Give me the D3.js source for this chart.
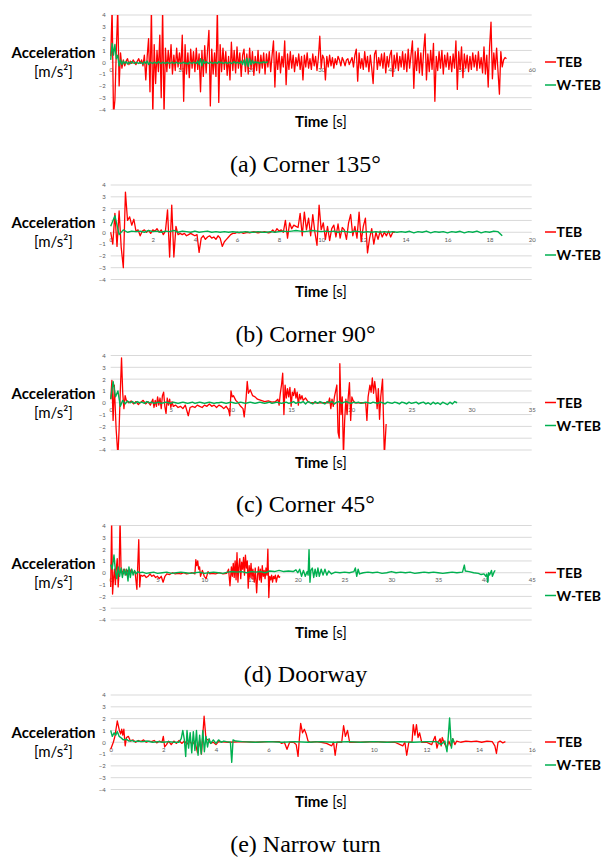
<!DOCTYPE html>
<html>
<head>
<meta charset="utf-8">
<script src="https://cdn.jsdelivr.net/npm/d3@7"></script>
<style>
  body { margin: 0; background: #fff; }
</style>
</head>
<body>
<div id="chart"></div>
<script>
var width = 605,
    height = 857;

// ---- data ----
var yTicks = [-4, -3, -2, -1, 0, 1, 2, 3, 4];

var captions = ["(a) Corner 135°", "(b) Corner 90°", "(c) Corner 45°", "(d) Doorway", "(e) Narrow turn"];
var xMaxes = [60, 20, 35, 45, 16];
var xTicksA = [0, 10, 20, 30, 40, 50, 60],
    xTicksB = [0, 2, 4, 6, 8, 10, 12, 14, 16, 18, 20],
    xTicksC = [0, 5, 10, 15, 20, 25, 30, 35],
    xTicksD = [0, 5, 10, 15, 20, 25, 30, 35, 40, 45],
    xTicksE = [0, 2, 4, 6, 8, 10, 12, 14, 16];

// (a) Corner 135 - sampled every 0.2 s
var tebA = [
  0.5, 4.5, -4.5, -3.2, 1.0, 4.5, -2.0, 0.8, -0.5, 0.2,
  -0.3, 0.1, 0.3, -0.2, 0.1, -0.1, 0.2, 0.0, -0.2, 0.1,
  0.3, -0.1, 0.2, -0.3, 0.6, -1.5, 0.5, 2.0, -2.5, 4.5,
  -4.5, 1.5, -1.8, 1.0, -0.8, 2.3, -3.0, 4.5, -4.5, 1.2,
  -0.8, 1.0, -0.5, 1.5, -1.0, 0.6, -0.7, 1.2, -0.4, 0.8,
  -0.6, 2.3, -3.3, 1.5, -1.0, 0.8, -1.3, 1.1, -0.5, 0.9,
  -0.8, 1.2, -0.6, 0.7, -2.5, 1.0, -1.2, 1.4, -0.9, 1.0,
  2.7, -3.7, 1.1, -1.0, 0.8, -1.2, 4.5, -3.4, 1.5, -0.8,
  1.2, -0.6, 0.9, -1.1, 0.5, -1.5, 1.7, -0.7, 1.0, -0.9,
  1.3, -0.5, 0.8, -1.2, 0.6, 1.1, -0.8, 0.7, -1.0, 1.2,
  -0.6, 0.9, -1.1, 0.5, -0.7, 1.0, -0.9, 0.6, -0.5, 0.8,
  -1.0, 0.7, -0.4, 0.9, -0.8, 0.6, 1.8, -2.1, 0.9, -0.6,
  0.8, -0.9, 0.5, -0.4, 1.8, -1.9, 0.7, -0.6, 0.9, -0.5,
  0.6, -0.8, 0.4, -0.3, 0.7, -0.6, 0.5, -1.5, 0.6, -0.4,
  0.8, -0.5, 0.3, -0.6, 0.7, -0.3, 0.5, -0.7, 0.4, 2.2,
  -0.5, 0.6, 0.3, -1.5, 0.5, -0.4, 0.6, -0.3, 0.4, -0.5,
  0.3, -0.2, 0.5, 0.2, -0.3, 0.4, 0.1, -0.3, 0.2, 0.3,
  -0.2, 0.1, 0.4, -0.4, 0.6, 1.1, -1.6, 0.8, -0.5, 0.3,
  -0.6, 0.9, -0.4, 0.5, -0.8, 0.6, -0.5, -1.8, 0.7, 1.0,
  -0.6, 0.4, -0.3, 0.7, -0.5, 0.8, -0.9, 0.5, -0.4, 0.6,
  1.0, -1.2, 0.6, -0.5, 0.8, -0.7, 0.5, -0.4, 0.9, -0.6,
  0.7, -0.8, 1.1, -0.5, 0.6, 1.8, -2.2, 0.9, -0.7, 1.2,
  -0.9, 0.8, -1.1, 1.0, 2.4, -1.5, 0.7, -0.8, 1.0, -0.6,
  1.6, -3.3, 0.5, -0.7, 0.9, -0.5, 1.0, -1.0, 0.6, -0.4,
  0.8, -0.6, 0.5, -0.8, 0.7, -0.5, 1.8, -2.3, 0.9, -0.6,
  1.3, -1.3, 0.7, -0.5, 0.6, -0.8, 0.5, -0.6, 0.8, -0.4,
  0.6, -0.7, 0.9, -0.5, 0.4, -0.9, 1.3, -1.0, 0.6, -2.1,
  1.3, 3.4, -1.4, 0.8, -0.6, 1.2, -0.8, -2.7, 0.9, -0.4,
  0.2, 0.4, 0.3
];
var wtebA = [
  0.2, 1.6, 0.6, 1.5, 0.3, 0.6, -0.3, 0.2, -0.2, 0.1,
  -0.1, 0.05, -0.15, 0.0, -0.1, 0.05, -0.05, -0.1, 0.0, -0.05,
  -0.1, 0.0, -0.05, -0.15, 0.05, -0.1, 0.1, -0.2, 0.0, -0.05,
  -0.1, 0.0, -0.05, -0.1, 0.05, -0.05, -0.1, 0.0, -0.05, -0.1,
  0.0, -0.05, -0.1, -0.05, 0.0, -0.1, -0.05, 0.0, -0.1, -0.05,
  -0.1, -0.05, 0.0, -0.1, -0.05, -0.15, 0.0, -0.05, -0.1, 0.0,
  -0.05, -0.1, 0.1, -0.2, 0.3, -0.3, 0.2, -0.1, 0.05, -0.05,
  -0.1, 0.0, -0.05, -0.1, 0.0, -0.05, -0.1, 0.05, -0.05, 0.0,
  -0.1, -0.05, 0.0, -0.1, -0.05, 0.0, -0.1, -0.05, 0.05, -0.1,
  0.0, -0.05, -0.1, 0.1, -0.2, 0.2, -0.3, 0.35, -0.35, 0.3,
  -0.2, 0.15, -0.1, 0.05, -0.05, 0.0, -0.1, 0.0, -0.05, 0.05,
  -0.05, 0.0, 0.05
];

// (b) Corner 90 - TEB every 0.1 s, W-TEB every 0.2 s
var tebB = [
  0.0, -1.0, 1.6, -1.2, 1.8, -1.3, -3.0, 3.4, 1.0, 1.3,
  0.6, 1.1, 0.1, 0.2, -0.3, 0.1, 0.2, 0.0, 0.15, -0.1,
  0.2, 0.1, 0.3, 0.0, 0.2, -0.2, 0.1, 1.9, -2.1, 2.3,
  -2.1, 0.5, -0.2, -0.1, -0.2, -0.1, -0.3, -0.2, -0.1, -0.2,
  -0.3, -0.2, -1.7, -0.5, -0.3, -0.6, -0.4, -0.3, -0.5, -0.4,
  -0.6, -0.3, -0.5, -1.2, -0.8, -0.6, -0.4, -0.2, -0.1, -0.1,
  0.0, -0.05, 0.0, -0.1, -0.05, 0.0, -0.05, 0.0, 0.05, 0.0,
  -0.05, 0.0, 0.0, 0.05, 0.0, -0.05, 0.0, 0.2, 0.0, 0.3,
  0.1, 0.2, 0.0, 1.0, -0.5, 0.8, 0.3, 0.6, 0.5, 0.4,
  1.6, -0.3, 1.7, 0.2, 1.2, -0.3, 1.5, 0.0, -1.1, 2.3,
  0.2, 0.8, -0.6, 0.5, -0.7, 0.3, 0.6, -0.4, 0.7, -0.5,
  0.4, 0.2, -0.6, 0.8, 1.5, -0.3, 0.5, -0.5, 1.7, -0.8,
  0.5, 1.2, -1.75, -0.5, 0.3, -1.0, 0.0, -0.6, 0.1, -0.4,
  0.0, -0.3, 0.1, -0.4, 0.0, 0.0
];
var wtebB = [
  0.5, 1.4, -0.2, 0.2, 0.0, 0.1, 0.05, 0.1, 0.0, 0.15,
  0.05, 0.1, 0.0, 0.1, 0.05, 0.15, 0.0, 0.1, 0.05, 0.0,
  0.1, 0.0, 0.05, 0.1, 0.0, 0.05, 0.0, 0.05, 0.0, 0.05,
  0.0, 0.0, 0.05, 0.0, 0.0, 0.05, 0.0, 0.0, 0.05, 0.0,
  0.05, 0.1, 0.05, 0.1, 0.15, 0.1, 0.05, 0.1, 0.15, 0.1,
  0.05, 0.1, 0.05, 0.1, 0.0, 0.1, 0.05, 0.0, 0.1, 0.05,
  0.0, 0.05, 0.0, 0.05, 0.0, 0.05, 0.0, 0.05, 0.0, 0.05,
  0.0, 0.08, -0.05, 0.05, 0.0, 0.1, -0.05, 0.05, 0.0, 0.05,
  -0.05, 0.05, 0.0, 0.08, -0.05, 0.05, 0.0, 0.1, -0.05, 0.05,
  0.0, 0.1, 0.05, -0.3
];

// (c) Corner 45 - TEB as [t, value], W-TEB every 0.2 s
var tebC = [
  [0, 0.3], [0.1, 1.9], [0.2, -1.5], [0.3, 1.5], [0.45, -2.2], [0.6, -4.5], [0.7, -2.2], [0.8, 1.0], [0.9, 3.8],
  [1.0, 0.8], [1.1, -0.5], [1.2, 0.6], [1.3, 0.2], [1.5, 0.0], [1.7, 0.15], [1.9, -0.1], [2.1, 0.1], [2.3, -0.15],
  [2.5, 0.05], [2.7, 0.2], [2.9, -0.1], [3.1, 0.1], [3.3, -0.2], [3.5, 0.3], [3.6, -0.4], [3.7, 0.2], [3.8, -0.3],
  [3.9, 0.5], [4.0, -0.2], [4.1, 0.4], [4.2, -0.5], [4.3, 0.6], [4.4, 0.9], [4.5, -0.3], [4.6, -0.9], [4.7, 0.4],
  [4.8, -0.2], [4.9, 0.3], [5.0, -0.4], [5.1, 0.1], [5.2, -0.3], [5.4, -0.2], [5.6, -0.4], [5.8, -0.3], [6.0, -0.5],
  [6.2, -0.2], [6.45, -1.1], [6.6, -0.4], [6.8, -0.3], [7.0, -0.4], [7.2, -0.2], [7.4, -0.3], [7.6, -0.4],
  [7.8, -0.2], [8.0, -0.3], [8.2, -0.1], [8.4, -0.3], [8.6, -0.2], [8.8, -0.4], [9.0, -0.2], [9.2, -0.3],
  [9.4, -0.5], [9.6, -0.3], [9.8, -0.6], [9.9, -1.1], [10.0, 1.0], [10.1, 0.5], [10.2, 0.6], [10.4, 0.2],
  [10.6, 0.0], [10.8, -0.3], [11.0, -0.5], [11.1, -1.2], [11.25, 0.3], [11.35, 1.8], [11.45, 0.8], [11.6, 1.1],
  [11.8, 0.6], [12.0, 0.5], [12.2, 0.3], [12.5, 0.2], [12.8, 0.1], [13.1, 0.15], [13.4, 0.05], [13.7, 0.1],
  [13.9, 0.3], [14.0, -0.2], [14.1, 0.8], [14.2, 1.5], [14.3, 2.5], [14.4, -1.0], [14.5, 1.5], [14.6, 0.4],
  [14.7, 1.2], [14.8, 0.5], [14.9, 1.3], [15.0, -0.3], [15.1, 0.9], [15.2, 0.6], [15.3, 1.2], [15.4, 0.4],
  [15.5, 0.9], [15.6, -0.2], [15.7, 0.7], [15.8, 0.3], [15.9, 0.6], [16.0, 0.2], [16.2, 0.4], [16.4, 0.1],
  [16.6, 0.0], [18.1, 0.0], [18.2, 0.4], [18.3, -0.5], [18.4, 0.3], [18.5, -0.3], [18.6, 0.5], [18.8, 1.5],
  [18.9, -2.5], [19.0, -3.0], [19.05, 3.3], [19.15, -1.0], [19.25, 0.5], [19.35, -4.5], [19.45, -1.5],
  [19.55, 0.3], [19.65, -1.0], [19.75, 0.5], [19.85, 1.7], [19.95, -1.5], [20.05, 0.5], [20.15, 0.2],
  [20.3, 0.0], [21.2, 0.0], [21.3, -1.5], [21.4, 0.5], [21.55, 1.5], [21.65, 0.9], [21.75, 2.1], [21.85, 0.8],
  [21.95, 1.8], [22.05, 1.0], [22.15, -0.5], [22.25, 1.2], [22.35, -1.4], [22.45, 0.5], [22.6, 2.0],
  [22.75, -4.5], [22.9, -1.8]
];
var wtebC = [
  0.3, 1.8, 0.5, 1.0, -0.3, 0.2, -0.1, 0.15, 0.0, 0.1,
  -0.05, 0.1, 0.0, 0.05, -0.05, 0.1, 0.0, 0.05, -0.05, 0.0,
  0.05, -0.05, 0.0, 0.05, 0.0, -0.05, 0.05, 0.0, -0.05, 0.0,
  0.05, 0.0, -0.05, 0.0, 0.05, -0.05, 0.0, 0.05, 0.0, -0.05,
  0.0, 0.05, 0.0, -0.05, 0.0, 0.0, 0.05, 0.0, -0.05, 0.0,
  0.05, 0.0, -0.05, 0.0, 0.05, 0.0, -0.05, 0.0, 0.05, 0.0,
  -0.05, 0.0, 0.05, 0.0, -0.05, 0.0, 0.05, -0.05, 0.0, 0.05,
  0.0, -0.05, 0.0, 0.05, -0.05, 0.0, 0.1, -0.05, 0.05, 0.0,
  0.1, -0.1, 0.1, 0.0, -0.1, 0.1, -0.05, 0.1, 0.0, -0.1,
  0.1, 0.0, 0.1, -0.1, 0.05, 0.1, -0.05, 0.05, 0.1, 0.0,
  -0.05, 0.05, 0.0, 0.05, -0.05, 0.0, 0.05, 0.0, -0.05, 0.05,
  0.0, -0.05, 0.05, 0.0, -0.1, 0.05, 0.0, -0.05, 0.05, 0.0,
  -0.1, 0.05, 0.0, -0.1, 0.05, -0.05, 0.0, 0.05, -0.1, 0.0,
  0.05, -0.1, 0.0, -0.15, 0.05, -0.1, 0.0, -0.15, 0.05, -0.05,
  -0.15, 0.05, -0.1, 0.1, 0.0
];

// (d) Doorway - [t, value]
var tebD = [
  [0, -1.2], [0.1, 4.5], [0.2, -1.8], [0.3, -0.5], [0.4, 0.3], [0.5, -1.0], [0.6, 0.4], [0.7, 1.2], [0.8, -1.2],
  [0.9, 0.2], [1.0, 4.5], [1.1, 0.5], [1.2, 0.2], [1.35, -0.1], [1.5, 0.3], [1.65, -0.2], [1.8, 0.2], [2.0, -0.1],
  [2.2, 0.3], [2.4, 0.0], [2.6, 0.1], [2.8, -1.4], [2.9, 0.8], [3.0, 2.8], [3.1, -1.2], [3.2, -0.2], [3.4, -0.3],
  [3.6, -0.2], [3.8, -0.4], [4.0, -0.3], [4.2, -0.1], [4.4, -0.3], [4.6, -0.2], [4.8, -0.4], [5.0, -0.3],
  [5.2, -0.5], [5.4, -0.3], [5.6, -0.8], [5.8, -0.3], [6.0, -0.1], [6.3, -0.15], [6.6, 0.0], [6.9, -0.1],
  [7.2, -0.05], [7.5, -0.1], [7.8, 0.0], [8.1, -0.1], [8.4, -0.05], [8.7, 0.0], [9.0, -0.1], [9.1, 1.1],
  [9.2, 0.6], [9.3, 1.0], [9.4, 0.3], [9.5, 0.5], [9.6, -0.3], [9.8, 0.2], [10.0, -0.3], [10.2, -0.5],
  [10.4, 0.1], [10.6, -0.1], [10.8, -0.05], [11.2, -0.1], [11.6, 0.0], [12.0, -0.1], [12.4, -0.05],
  [12.6, 0.3], [12.75, -1.1], [12.9, 0.5], [13.0, -0.3], [13.1, 0.8], [13.2, -0.4], [13.3, 1.0], [13.4, -0.6],
  [13.5, 1.7], [13.6, -0.8], [13.7, 0.6], [13.8, 1.2], [13.9, -0.5], [14.0, 0.9], [14.1, 0.3], [14.2, 1.3],
  [14.3, -0.2], [14.4, 1.5], [14.5, 0.4], [14.6, 1.0], [14.7, -1.3], [14.8, 0.6], [14.9, -0.4], [15.0, 0.8],
  [15.1, -0.5], [15.2, 0.3], [15.35, -0.8], [15.45, 0.4], [15.6, -1.7], [15.7, -0.2], [15.8, 0.5], [15.9, -0.6],
  [16.0, 0.3], [16.1, -0.8], [16.2, 0.6], [16.3, -0.3], [16.4, 0.2], [16.5, -0.5], [16.6, 0.4], [16.7, -0.2],
  [16.8, 2.0], [16.9, -2.1], [17.0, -0.3], [17.1, -0.6], [17.2, -0.2], [17.3, -0.8], [17.4, -0.3], [17.5, -0.5],
  [17.6, -0.2], [17.7, -0.8], [17.8, -0.4], [17.9, -0.2], [18.0, -0.4], [18.1, -0.3]
];
var wtebD = [
  [0, 0.7], [0.15, 0.3], [0.35, 1.5], [0.5, 0.2], [0.65, -0.5], [0.8, 0.5], [0.95, -0.3], [1.1, 0.4], [1.25, -0.4],
  [1.4, 0.3], [1.55, -0.2], [1.7, 0.3], [1.85, -0.7], [1.95, 0.5], [2.1, -0.4], [2.25, 0.3], [2.4, -0.2],
  [2.55, 0.2], [2.7, -0.1], [2.9, 0.1], [3.1, 0.0], [3.4, 0.05], [3.8, -0.05], [4.2, 0.0], [4.6, 0.05],
  [5.0, -0.05], [5.5, 0.0], [6.0, 0.05], [6.5, -0.05], [7.0, 0.0], [7.5, 0.05], [8.0, 0.0], [8.5, -0.05],
  [9.0, 0.0], [9.5, 0.05], [10.0, -0.05], [10.5, 0.0], [11.0, 0.05], [11.5, 0.0], [12.0, -0.05], [12.5, 0.05],
  [13.0, 0.1], [13.5, 0.05], [14.0, 0.1], [14.5, 0.0], [15.0, 0.1], [15.5, 0.05], [16.0, 0.1], [16.5, 0.0],
  [17.0, 0.15], [17.5, 0.1], [18.0, 0.2], [18.5, 0.1], [19.0, 0.15], [19.5, 0.1], [19.8, 0.25], [20.0, 0.0],
  [20.2, 0.3], [20.4, -0.3], [20.6, 0.2], [20.8, -0.3], [21.0, 0.1], [21.1, -0.2], [21.2, 1.95], [21.3, -0.8],
  [21.4, 0.2], [21.55, 0.4], [21.7, -0.4], [21.85, 0.3], [22.0, -0.3], [22.15, 0.4], [22.3, -0.3], [22.5, 0.3],
  [22.7, -0.2], [22.9, 0.3], [23.1, -0.2], [23.3, 0.15], [23.6, -0.1], [24.0, 0.05], [24.5, 0.0], [25.0, 0.05],
  [25.5, 0.0], [26.0, 0.1], [26.15, 0.4], [26.3, -0.3], [26.45, 0.3], [26.6, -0.1], [27.0, 0.0], [27.5, 0.05],
  [28.0, 0.0], [28.5, 0.05], [29.0, -0.05], [29.5, 0.0], [30.0, 0.1], [30.5, 0.0], [31.0, 0.05], [31.5, 0.0],
  [32.0, 0.05], [32.5, -0.05], [33.0, 0.0], [33.5, 0.05], [34.0, 0.0], [34.5, 0.05], [35.0, 0.0], [35.5, -0.05],
  [36.0, 0.0], [36.5, 0.05], [37.0, 0.0], [37.6, 0.05], [37.8, 0.65], [37.9, 0.15], [38.3, 0.1], [38.8, 0.0],
  [39.3, -0.05], [39.6, -0.15], [39.9, -0.1], [40.1, -0.3], [40.2, -0.1], [40.3, -0.8], [40.4, 0.0],
  [40.5, -0.2], [40.7, 0.2], [40.8, -0.3], [41.0, 0.1], [41.1, 0.2]
];

// (e) Narrow turn - [t, value]
var tebE = [
  [0, -0.6], [0.1, 0.0], [0.16, 0.5], [0.25, 1.8], [0.33, 1.0], [0.38, 0.7], [0.42, 1.1], [0.46, 0.6], [0.5, 1.1],
  [0.55, -0.3], [0.6, 0.4], [0.67, 0.5], [0.75, 0.1], [0.85, 0.2], [0.95, 0.0], [1.05, 0.15], [1.15, 0.05],
  [1.25, 0.2], [1.35, 0.0], [1.45, 0.1], [1.55, 0.05], [1.65, 0.15], [1.75, -0.05], [1.85, 0.1], [1.95, 0.0],
  [2.0, 0.5], [2.05, -0.4], [2.12, -0.2], [2.2, 0.1], [2.3, -0.2], [2.4, 0.1], [2.5, -0.1], [2.6, 0.15],
  [2.7, -0.1], [2.8, 0.1], [2.9, -0.15], [3.0, 0.1], [3.1, -0.2], [3.2, 0.1], [3.3, -0.9], [3.38, 0.2],
  [3.45, -1.0], [3.55, 2.2], [3.62, 0.3], [3.7, 0.2], [3.8, -0.1], [3.9, 0.0], [4.0, -0.2], [4.1, 0.05],
  [4.5, 0.0], [5.0, 0.05], [5.5, 0.0], [6.0, 0.05], [6.4, 0.05], [6.5, -0.1], [6.6, 0.0], [6.7, -0.6], [6.8, 0.0],
  [6.95, 0.0], [7.05, -0.2], [7.12, -1.2], [7.17, 0.3], [7.22, 1.6], [7.29, 0.8], [7.36, 1.1], [7.43, 0.7],
  [7.5, 0.1], [7.6, 0.0], [7.8, 0.05], [8.0, 0.0], [8.2, -0.1], [8.4, -0.3], [8.47, 0.0], [8.53, -1.1],
  [8.6, 0.0], [8.78, 0.0], [8.85, 1.4], [8.92, 0.5], [9.0, 1.0], [9.08, 0.0], [9.5, 0.0], [10.0, 0.05],
  [10.5, 0.0], [10.8, 0.0], [11.0, -0.2], [11.1, -0.3], [11.18, 0.0], [11.25, -1.1], [11.33, 0.0], [11.45, 0.0],
  [11.5, 1.5], [11.56, 0.6], [11.62, 1.5], [11.68, 0.4], [11.74, 0.8], [11.82, 0.0], [12.0, 0.0], [12.2, -0.2],
  [12.33, 0.5], [12.4, -0.5], [12.47, 0.1], [12.52, 0.3], [12.56, -0.3], [12.6, 0.4], [12.68, -0.1],
  [12.78, -0.5], [12.85, 0.1], [12.92, -0.3], [13.0, 0.3], [13.08, -0.2], [13.15, 0.1], [13.3, 0.0],
  [13.5, 0.1], [13.7, 0.05], [13.9, 0.1], [14.1, 0.0], [14.3, 0.1], [14.5, 0.05], [14.6, -0.3], [14.66, -0.95],
  [14.72, 0.0], [14.8, 0.1], [14.9, -0.05], [15.0, 0.05]
];
var wtebE = [
  [0, 1.0], [0.06, 0.5], [0.13, 0.8], [0.19, 0.6], [0.25, 0.9], [0.32, 0.5], [0.38, 0.4], [0.48, 0.2],
  [0.6, 0.25], [0.7, 0.1], [0.8, 0.15], [0.9, 0.05], [1.0, 0.1], [1.2, 0.05], [1.4, 0.1], [1.6, 0.0],
  [1.8, 0.05], [2.0, 0.0], [2.2, 0.05], [2.4, 0.0], [2.6, 0.0], [2.68, 0.3], [2.74, 1.0], [2.8, 0.2],
  [2.85, -1.2], [2.9, 1.0], [2.96, -0.5], [3.02, 0.8], [3.08, -0.9], [3.14, 0.9], [3.2, -0.7], [3.26, 1.0],
  [3.32, -1.1], [3.38, 0.6], [3.44, -1.0], [3.5, 1.0], [3.56, -0.8], [3.62, 0.5], [3.68, -0.4], [3.74, 0.3],
  [3.8, -0.1], [3.9, 0.2], [4.0, -0.1], [4.1, 0.2], [4.2, 0.0], [4.3, 0.1], [4.4, 0.05], [4.55, 0.0],
  [4.6, -1.7], [4.65, 0.2], [4.75, 0.1], [5.0, 0.05], [5.5, 0.0], [6.0, 0.05], [6.5, 0.0], [7.0, 0.05],
  [7.5, 0.0], [8.0, 0.05], [8.5, 0.0], [9.0, 0.05], [9.5, 0.0], [10.0, 0.05], [10.5, 0.0], [11.0, 0.05],
  [11.5, 0.0], [12.0, 0.05], [12.4, 0.05], [12.55, -0.2], [12.7, 0.1], [12.78, -0.8], [12.83, 0.5],
  [12.88, 2.05], [12.95, -0.5], [13.0, 0.3], [13.05, 0.0]
];

// sample interval (s) for the evenly sampled series
function sampled(values, dt) {
    return values.map(function(v, i) { return [i * dt, v]; });
}

var panels = [
    {teb: sampled(tebA, 0.2), wteb: sampled(wtebA, 0.2), xTicks: xTicksA},
    {teb: sampled(tebB, 0.1), wteb: sampled(wtebB, 0.2), xTicks: xTicksB},
    {teb: tebC, wteb: sampled(wtebC, 0.2), xTicks: xTicksC},
    {teb: tebD, wteb: wtebD, xTicks: xTicksD},
    {teb: tebE, wteb: wtebE, xTicks: xTicksE}
];

// ---- layout ----
var plotLeft = 110.7,
    plotRight = 531.7,
    plotH = 94.5;
var panelTops = [15, 185, 355.5, 525.5, 695];

var red = "#ff0000",
    green = "#00b050",
    sans = "Lato, 'Open Sans', sans-serif",
    serif = "'Liberation Serif', 'DejaVu Serif', serif";

var svg = d3.select("#chart")
    .append("svg")
    .attr("width", width)
    .attr("height", height)
    .style("display", "block");

svg.append("rect").attr("width", width).attr("height", height).attr("fill", "#fff");

panels.forEach(function(p, i) {
    var top = panelTops[i];
    var g = svg.append("g").attr("transform", "translate(0," + top + ")");

    var x = d3.scaleLinear().domain([0, xMaxes[i]]).range([plotLeft, plotRight]);
    var y = d3.scaleLinear().domain([-4, 4]).range([plotH, 0]);

    // gridlines
    g.selectAll(".grid")
        .data(yTicks)
        .enter().append("line")
        .attr("class", "grid")
        .attr("x1", plotLeft)
        .attr("x2", plotRight)
        .attr("y1", function(d) { return y(d); })
        .attr("y2", function(d) { return y(d); })
        .attr("stroke", "#d9d9d9")
        .attr("stroke-width", 1);

    // y tick labels
    var ya = g.append("g")
        .attr("transform", "translate(" + (plotLeft - 5) + ",0)")
        .call(d3.axisLeft(y).tickValues(yTicks).tickSize(0).tickPadding(0));
    ya.select(".domain").remove();
    ya.selectAll("text")
        .attr("font-family", sans)
        .attr("font-size", 6)
        .attr("fill", "#595959");

    // x tick labels under the zero line
    var xa = g.append("g")
        .attr("transform", "translate(0," + y(0) + ")")
        .call(d3.axisBottom(x).tickValues(p.xTicks).tickSize(0).tickPadding(5));
    xa.select(".domain").remove();
    xa.selectAll("text")
        .attr("font-family", sans)
        .attr("font-size", 6)
        .attr("fill", "#595959");

    // clip to the value range
    var clipId = "clip" + i;
    g.append("clipPath").attr("id", clipId)
        .append("rect")
        .attr("x", plotLeft - 1)
        .attr("y", 0)
        .attr("width", plotRight - plotLeft + 2)
        .attr("height", plotH);

    var line = d3.line()
        .x(function(d) { return x(d[0]); })
        .y(function(d) { return y(d[1]); });

    var lines = g.append("g").attr("clip-path", "url(#" + clipId + ")");
    lines.append("path")
        .datum(p.teb)
        .attr("d", line)
        .attr("fill", "none")
        .attr("stroke", red)
        .attr("stroke-width", 1.3)
        .attr("stroke-linejoin", "round");
    lines.append("path")
        .datum(p.wteb)
        .attr("d", line)
        .attr("fill", "none")
        .attr("stroke", green)
        .attr("stroke-width", 1.4)
        .attr("stroke-linejoin", "round");

    // axis titles
    g.append("text")
        .attr("x", 53.5)
        .attr("y", 43)
        .attr("text-anchor", "middle")
        .attr("font-family", sans)
        .attr("font-weight", "bold")
        .attr("font-size", 15)
        .attr("fill", "#000")
        .text("Acceleration");
    g.append("text")
        .attr("x", 53.5)
        .attr("y", 62)
        .attr("text-anchor", "middle")
        .attr("font-family", sans)
        .attr("font-size", 15)
        .attr("fill", "#000")
        .text("[m/s²]");

    var tt = g.append("text")
        .attr("x", 321)
        .attr("y", 112)
        .attr("text-anchor", "middle")
        .attr("font-family", sans)
        .attr("font-size", 15)
        .attr("fill", "#000");
    tt.append("tspan").attr("font-weight", "bold").text("Time");
    tt.append("tspan").text(" [s]");

    // legend
    var leg = g.append("g");
    [["TEB", red, 47], ["W-TEB", green, 70]].forEach(function(e) {
        leg.append("line")
            .attr("x1", 545).attr("x2", 556)
            .attr("y1", e[2]).attr("y2", e[2])
            .attr("stroke", e[1])
            .attr("stroke-width", 1.5);
        leg.append("text")
            .attr("x", 556.5)
            .attr("y", e[2] + 5)
            .attr("font-family", sans)
            .attr("font-weight", "bold")
            .attr("font-size", 14)
            .attr("fill", "#000")
            .text(e[0]);
    });

    // caption
    g.append("text")
        .attr("x", 305.5)
        .attr("y", 156.5)
        .attr("text-anchor", "middle")
        .attr("font-family", serif)
        .attr("font-size", 24)
        .attr("fill", "#000")
        .text(captions[i]);
});
</script>
</body>
</html>
